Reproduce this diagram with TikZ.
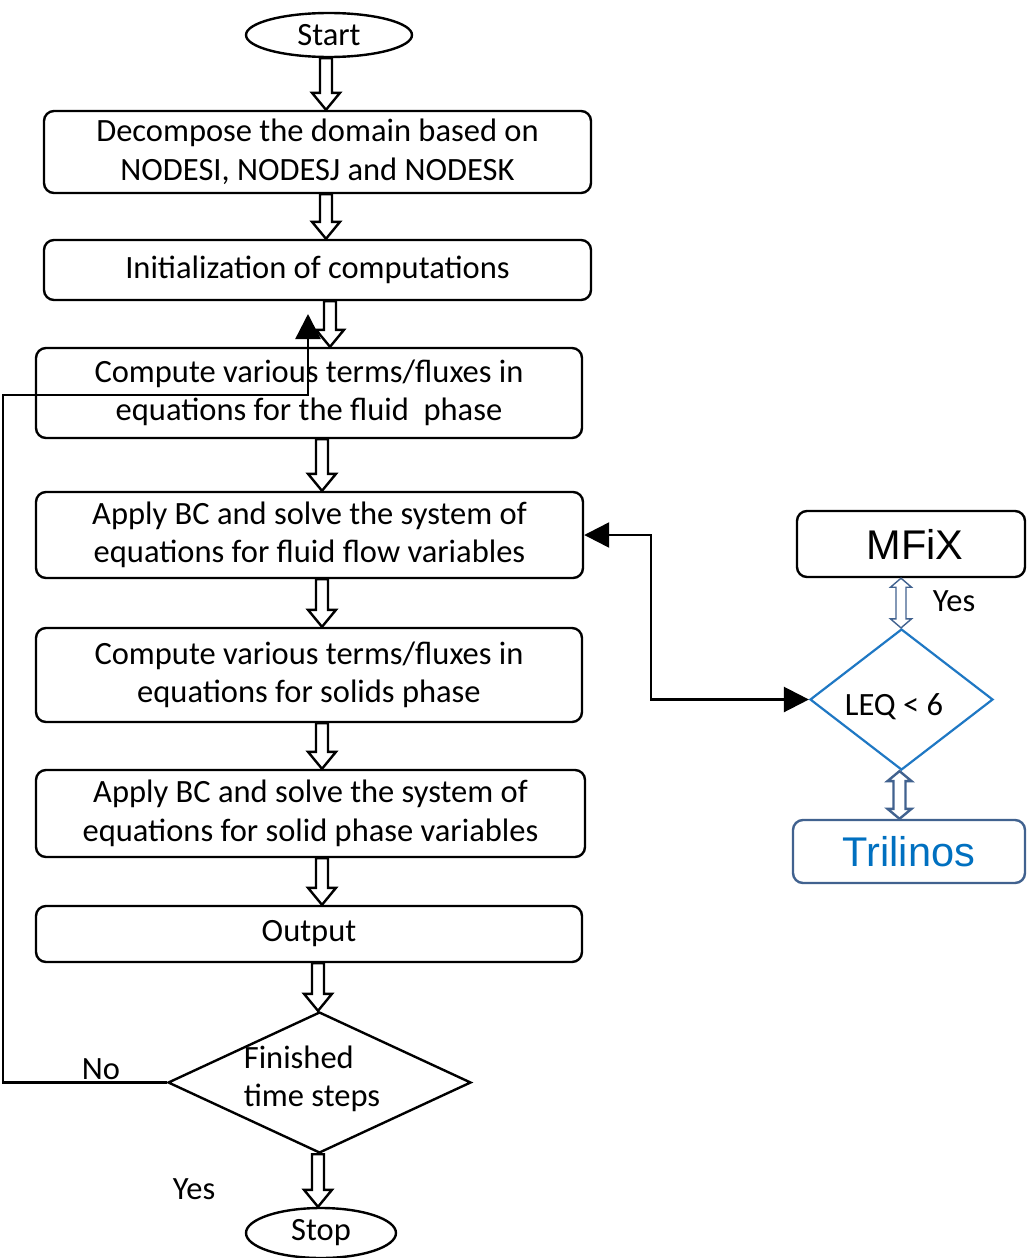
\documentclass[tikz,border=0pt]{standalone}
\usepackage{fontspec}
\setmainfont{Carlito}
\newfontfamily\arialfont{Liberation Sans}
\usetikzlibrary{shapes.geometric,arrows.meta,calc}
\definecolor{leqblue}{HTML}{1F78C4}
\definecolor{slateblue}{HTML}{41628F}
\definecolor{trilblue}{HTML}{0070C0}

% hollow block arrow pointing down: x, upper anchor, lower anchor
\newcommand\hollowdown[3]{%
  let \p1=(#2), \p2=(#3) in
  (#1pt-6pt,\y1) -- (#1pt+6pt,\y1) -- (#1pt+6pt,\y2+17pt) -- (#1pt+14pt,\y2+17pt)
  -- (#1pt,\y2) -- (#1pt-14pt,\y2+17pt) -- (#1pt-6pt,\y2+17pt) -- cycle}
% hollow block arrow with heads at both ends: x, upper anchor, lower anchor,
% half shaft width, half head width, head length
\newcommand\hollowboth[6]{%
  let \p1=(#2), \p2=(#3) in
  (#1pt,\y1) -- (#1pt+#5pt,\y1-#6pt) -- (#1pt+#4pt,\y1-#6pt) -- (#1pt+#4pt,\y2+#6pt)
  -- (#1pt+#5pt,\y2+#6pt) -- (#1pt,\y2) -- (#1pt-#5pt,\y2+#6pt) -- (#1pt-#4pt,\y2+#6pt)
  -- (#1pt-#4pt,\y1-#6pt) -- (#1pt-#5pt,\y1-#6pt) -- cycle}

\begin{document}
\begin{tikzpicture}[x=1pt,y=-1pt,
  bodyfont/.style={font=\fontsize{32.5}{38.5}\selectfont},
  bigfont/.style={font=\arialfont\fontsize{41.5}{46}\selectfont},
  box/.style={draw, rectangle, rounded corners=10pt, line width=2.4pt,
    align=center, inner sep=0pt, bodyfont},
  term/.style={draw, ellipse, line width=2.4pt, inner sep=0pt, bodyfont},
  decision/.style={draw, diamond, line width=2.4pt, inner sep=0pt},
  txt/.style={inner sep=0pt, align=left, bodyfont},
  hollow/.style={draw=black, fill=white, line width=2.4pt, line join=miter},
  link/.style={line width=2.4pt, >={Triangle[length=25pt,width=25pt]}}
]
\useasboundingbox (0,0) rectangle (1026,1258);
\fill[white] (0,0) rectangle (1026,1258);
\clip (0,0) rectangle (1026,1258);

% main flow
\node[term, minimum width=166, minimum height=44] (start) at (329,35) {Start};
\node[box, minimum width=547, minimum height=82] (b1) at (317.5,152)
  {Decompose the domain based on\\NODESI, NODESJ and NODESK};
\node[box, minimum width=547, minimum height=60] (b2) at (317.5,270)
  {Initialization of computations};
\node[box, minimum width=546, minimum height=90] (b3) at (309,393)
  {Compute various terms/fluxes in\\equations for the fluid\ \ phase};
\node[box, minimum width=547, minimum height=86] (b4) at (309.5,535)
  {Apply BC and solve the system of\\equations for fluid flow variables};
\node[box, minimum width=546, minimum height=94] (b5) at (309,675)
  {Compute various terms/fluxes in\\equations for solids phase};
\node[box, minimum width=549, minimum height=87] (b6) at (310.5,813.5)
  {Apply BC and solve the system of\\equations for solid phase variables};
\node[box, minimum width=546, minimum height=56] (b7) at (309,934)
  {Output};
\node[decision, minimum width=303, minimum height=141] (fin) at (319.5,1082.5) {};
\node[txt] (fintext) at (312,1079) {Finished\\time steps};
\node[term, minimum width=150, minimum height=50] (stop) at (321,1233) {Stop};

% side branch
\node[box, bigfont, minimum width=228, minimum height=66] (mfix) at (911,544)
  {\hspace*{8pt}MFiX};
\node[decision, draw=leqblue, line width=2.2pt, minimum width=183, minimum height=141] (leq) at (901.5,699.5) {};
\node[txt] (leqtext) at (894,707) {LEQ < 6};
\node[box, bigfont, draw=slateblue, text=trilblue, minimum width=232, minimum height=63] (tril) at (909,851.5)
  {Trilinos};

% labels
\node[txt] (nolabel) at (101,1069) {No};
\node[txt] (yeslabel) at (194,1189) {Yes};
\node[txt] (yesright) at (954,601) {Yes};

% block arrows of the main flow
\draw[hollow] \hollowdown{326}{start.south}{b1.north};
\draw[hollow] \hollowdown{326}{b1.south}{b2.north};
\draw[hollow] \hollowdown{330}{b2.south}{b3.north};
\draw[hollow] \hollowdown{322}{b3.south}{b4.north};
\draw[hollow] \hollowdown{322}{b4.south}{b5.north};
\draw[hollow] \hollowdown{322}{b5.south}{b6.north};
\draw[hollow] \hollowdown{322}{b6.south}{b7.north};
\draw[hollow] \hollowdown{318}{b7.south}{fin.north};
\draw[hollow] \hollowdown{318}{fin.south}{stop.north};

% block arrows of the side branch
\draw[hollow, draw=slateblue, line width=1.4pt] \hollowboth{901}{mfix.south}{leq.north}{5}{10.5}{9};
\draw[hollow, draw=slateblue] \hollowboth{899.5}{leq.south}{tril.north}{6}{12}{10};

% loop back when time steps are not finished
\coordinate (looptip) at (308,314);
\draw[link, ->] (fin.west) -- (3,1082.5) -- (3,395) -- (308,395) -- (looptip);

% exchange between the fluid solve and the linear solver choice
\draw[link, <->] (b4.east) -- (651,535) |- (leq.west);
\end{tikzpicture}
\end{document}
